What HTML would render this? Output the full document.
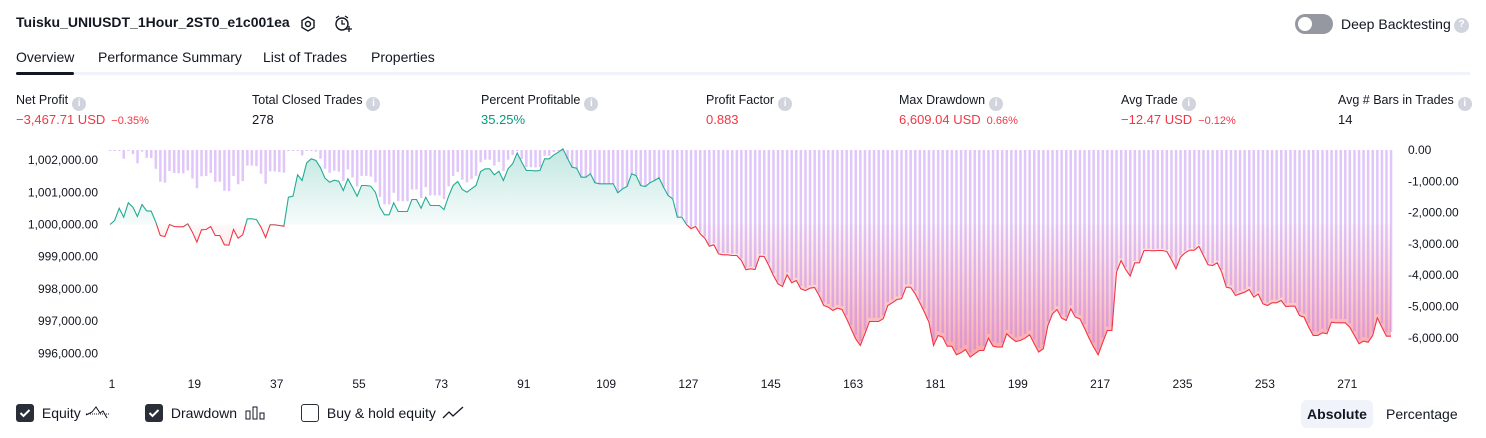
<!DOCTYPE html>
<html><head><meta charset="utf-8"><style>
*{margin:0;padding:0;box-sizing:border-box}
body{width:1486px;height:438px;background:#fff;font-family:"Liberation Sans",sans-serif;color:#131722;position:relative;overflow:hidden}
.abs{position:absolute;white-space:nowrap}
.title{left:16px;top:14px;font-size:14px;font-weight:bold}
.tab{top:49px;font-size:14px;color:#131722}
.lbl{top:93px;font-size:12.5px;color:#131722}
.val{top:112px;font-size:13px}
.info{display:inline-block;width:14px;height:14px;border-radius:50%;background:#d1d4dc;color:#fff;font-size:10px;text-align:center;line-height:14px;font-weight:bold;vertical-align:-2px;margin-left:4px}
.red{color:#f23645}.green{color:#089981}
.small{font-size:11px;margin-left:6px}
.cb{width:18px;height:18px;border-radius:3px;display:inline-block;vertical-align:middle}
.leg{top:404px;font-size:14px}
</style></head><body>
<div class="abs title">Tuisku_UNIUSDT_1Hour_2ST0_e1c001ea</div>
<svg class="abs" style="left:299px;top:15px" width="18" height="18"><polygon points="9,2 15,5.5 15,12.5 9,16 3,12.5 3,5.5" fill="none" stroke="#131722" stroke-width="1.4"/><circle cx="9" cy="9" r="2.5" fill="none" stroke="#131722" stroke-width="1.4"/></svg>
<svg class="abs" style="left:333px;top:14px" width="20" height="20"><circle cx="9" cy="10" r="6" fill="none" stroke="#131722" stroke-width="1.4"/><path d="M9 6v4h3M3 4l3-2M15 4l-3-2M13 15h6M16 12v6" stroke="#131722" stroke-width="1.3" fill="none"/></svg>
<div class="abs" style="left:1295px;top:14px;width:38px;height:20px;border-radius:10px;background:#9598a1"><div style="position:absolute;left:3px;top:3px;width:14px;height:14px;border-radius:50%;background:#fff"></div></div>
<div class="abs" style="left:1341px;top:16px;font-size:14px">Deep Backtesting</div>
<div class="abs info" style="left:1450px;top:18px;width:15px;height:15px">?</div>

<div class="abs tab" style="left:16px">Overview</div>
<div class="abs tab" style="left:98px">Performance Summary</div>
<div class="abs tab" style="left:263px">List of Trades</div>
<div class="abs tab" style="left:371px">Properties</div>
<div class="abs" style="left:16px;top:72px;width:1454px;height:3px;background:#f0f3fa"></div>
<div class="abs" style="left:16px;top:72px;width:58px;height:3px;border-radius:2px;background:#131722"></div>

<div class="abs lbl" style="left:16px">Net Profit<span class="info">i</span></div>
<div class="abs val red" style="left:16px">−3,467.71 USD<span class="small">−0.35%</span></div>
<div class="abs lbl" style="left:252px">Total Closed Trades<span class="info">i</span></div>
<div class="abs val" style="left:252px">278</div>
<div class="abs lbl" style="left:481px">Percent Profitable<span class="info">i</span></div>
<div class="abs val green" style="left:481px">35.25%</div>
<div class="abs lbl" style="left:706px">Profit Factor<span class="info">i</span></div>
<div class="abs val red" style="left:706px">0.883</div>
<div class="abs lbl" style="left:899px">Max Drawdown<span class="info">i</span></div>
<div class="abs val red" style="left:899px">6,609.04 USD<span class="small">0.66%</span></div>
<div class="abs lbl" style="left:1121px">Avg Trade<span class="info">i</span></div>
<div class="abs val red" style="left:1121px">−12.47 USD<span class="small">−0.12%</span></div>
<div class="abs lbl" style="left:1338px">Avg # Bars in Trades<span class="info">i</span></div>
<div class="abs val" style="left:1338px">14</div>

<svg id="chart" class="abs" style="left:0;top:138px" width="1486" height="258"></svg>

<div class="abs leg" style="left:16px"><span class="cb" style="background:#2a2e39;position:relative"><svg width="18" height="18"><path d="M4.5 9l3 3 6-6" stroke="#fff" stroke-width="2" fill="none"/></svg></span> <span style="margin-left:4px;vertical-align:middle">Equity</span> <svg width="26" height="14" style="vertical-align:middle"><path d="M1 9l6-3 4-5 4 6 3-2 4 7" stroke="#131722" fill="none" stroke-width="1"/><line x1="1" y1="8" x2="25" y2="8" stroke="#131722" stroke-dasharray="1,1"/></svg></div>
<div class="abs leg" style="left:145px"><span class="cb" style="background:#2a2e39"><svg width="18" height="18"><path d="M4.5 9l3 3 6-6" stroke="#fff" stroke-width="2" fill="none"/></svg></span> <span style="margin-left:4px;vertical-align:middle">Drawdown</span> <svg width="22" height="14" style="vertical-align:middle;margin-left:4px"><rect x="1" y="5" width="4" height="8" fill="none" stroke="#131722"/><rect x="8" y="1" width="4" height="12" fill="none" stroke="#131722"/><rect x="15" y="7" width="4" height="6" fill="none" stroke="#131722"/></svg></div>
<div class="abs leg" style="left:301px"><span class="cb" style="border:1.5px solid #2a2e39"></span> <span style="margin-left:4px;vertical-align:middle">Buy &amp; hold equity</span> <svg width="24" height="14" style="vertical-align:middle;margin-left:2px"><path d="M1 12l6-6 4 4 10-9" stroke="#131722" fill="none" stroke-width="1.3"/></svg></div>
<div class="abs" style="left:1301px;top:400px;width:72px;height:28px;border-radius:6px;background:#f0f3fa;font-size:14px;font-weight:bold;text-align:center;line-height:28px">Absolute</div>
<div class="abs" style="left:1386px;top:406px;font-size:14px">Percentage</div>

<script>
const netProfit = [0,124,507,228,673,538,248,621,424,414,72,-342,-373,0,-62,-72,-72,21,-238,-549,-166,-155,-62,-342,-342,-631,-642,-155,-424,-321,176,176,155,-83,-404,-10,-10,-31,-52,849,880,1542,1366,1915,2039,1987,1760,1439,1314,1377,1346,1056,1418,1159,880,1211,1211,1190,1004,538,300,300,673,404,404,404,776,776,507,849,590,590,590,466,880,1211,1335,1087,1004,1108,1211,1646,1729,1729,1542,1656,1366,1729,1884,2225,1935,1677,1677,1666,1677,2039,2039,2163,2246,2350,2060,1780,1749,1470,1470,1573,1294,1263,1263,1263,1263,983,1107,1180,1573,1521,1211,1180,1294,1366,1449,1159,900,797,
228,228,0,-130,-62,-290,-424,-673,-631,-911,-942,-942,-963,-963,-1118,-1408,-1377,-1397,-983,-994,-1273,-1584,-1842,-1925,-1563,-1811,-1739,-1998,-2049,-1977,-1956,-2205,-2515,-2567,-2670,-2598,-2639,-2929,-3240,-3550,-3757,-3395,-3012,-3012,-3012,-2929,-2515,-2432,-2329,-2308,-1946,-1946,-2153,-2432,-2722,-3033,-3757,-3447,-3498,-3778,-3778,-4047,-3985,-3881,-4119,-4016,-3912,-3912,-3530,-3778,-3809,-3809,-3395,-3530,-3633,-3602,-3530,-3426,-3705,-3964,-3861,-3136,-2774,-2639,-2908,-2981,-2619,-2877,-2929,-3219,-3530,-3809,-4047,-3654,-3291,-3291,-1480,-1118,-1397,-1604,-1190,-1190,-807,-807,-818,-807,-807,-838,-1087,-1377,-1014,-880,-797,-797,-673,-963,-1252,-1273,-1190,-1480,-1946,-1977,-2205,-2153,-2101,-2018,-2256,-2163,-2463,-2515,-2432,-2432,-2360,-2546,-2536,-2536,-2826,-2877,-3188,-3447,-3447,-3364,-3395,-3033,-3053,-3053,-3053,-3188,-3447,-3705,-3623,-3654,-3447,-2898,-3188,-3468,-3468];
const initialCapital = 1000000;
const leftTicks = [1002000,1001000,1000000,999000,998000,997000,996000];
const leftTickLabels = ["1,002,000.00","1,001,000.00","1,000,000.00","999,000.00","998,000.00","997,000.00","996,000.00"];
const rightTicks = [0,-1000,-2000,-3000,-4000,-5000,-6000];
const rightTickLabels = ["0.00","-1,000.00","-2,000.00","-3,000.00","-4,000.00","-5,000.00","-6,000.00"];
const xTicks = [1,19,37,55,73,91,109,127,145,163,181,199,217,235,253,271];

const OY = 138;
const svg = document.getElementById('chart');
const NS = 'http://www.w3.org/2000/svg';
const X = i => 110 + i * 4.575;
const YE = v => 224.5 - (v - initialCapital) * 0.0322 - OY;
const YD = d => 150 - d * 0.0313 - OY;
function mk(tag, attrs, parent) { const e = document.createElementNS(NS, tag); for (const k in attrs) e.setAttribute(k, attrs[k]); (parent || svg).appendChild(e); return e; }

const equity = netProfit.map(p => initialCapital + p);
let peak = initialCapital;
const drawdown = equity.map(v => { peak = Math.max(peak, v); return v - peak; });
const baseY = YE(initialCapital);

const defs = mk('defs', {});
const g1 = mk('linearGradient', {id: 'gg', gradientUnits: 'userSpaceOnUse', x1: 0, y1: YE(1002350), x2: 0, y2: baseY}, defs);
mk('stop', {offset: 0, 'stop-color': '#22ab94', 'stop-opacity': 0.28}, g1);
mk('stop', {offset: 1, 'stop-color': '#22ab94', 'stop-opacity': 0.04}, g1);
const g2 = mk('linearGradient', {id: 'rg', gradientUnits: 'userSpaceOnUse', x1: 0, y1: baseY, x2: 0, y2: YE(995800)}, defs);
mk('stop', {offset: 0, 'stop-color': '#f23645', 'stop-opacity': 0.03}, g2);
mk('stop', {offset: 1, 'stop-color': '#f23645', 'stop-opacity': 0.45}, g2);
const c1 = mk('clipPath', {id: 'above'}, defs); mk('rect', {x: 0, y: 0, width: 1486, height: baseY}, c1);
const c2 = mk('clipPath', {id: 'below'}, defs); mk('rect', {x: 0, y: baseY, width: 1486, height: 300}, c2);

leftTicks.forEach((t, i) => {
  const e = mk('text', {x: 98, y: YE(t) + 4, 'text-anchor': 'end', 'font-size': 12, fill: '#131722'});
  e.textContent = leftTickLabels[i];
  
  
});
rightTicks.forEach((t, i) => {
  const e = mk('text', {x: 1408, y: YD(t) + 4, 'font-size': 12, fill: '#131722'});
  e.textContent = rightTickLabels[i];
  
  
});
xTicks.forEach(t => {
  const e = mk('text', {x: X(t - 1) + 2, y: 250, 'text-anchor': 'middle', 'font-size': 12, fill: '#131722'});
  e.textContent = t;
  
  
});

const pts = equity.map((v, i) => X(i).toFixed(1) + ',' + YE(v).toFixed(1)).join(' ');
const poly = pts + ' ' + X(equity.length - 1).toFixed(1) + ',' + baseY + ' ' + X(0) + ',' + baseY;
const fa = mk('polygon', {points: poly, fill: 'url(#gg)', 'clip-path': 'url(#above)'});


const fb = mk('polygon', {points: poly, fill: 'url(#rg)', 'clip-path': 'url(#below)'});



drawdown.forEach((d, i) => {
  const h = Math.max(1, YD(d) - YD(0));
  const r = mk('rect', {x: (X(i) - 1.2).toFixed(1), y: YD(0), width: 2.5, height: h.toFixed(1), fill: 'rgb(180,120,240)', 'fill-opacity': 0.42});
  
  
});

const la = mk('polyline', {points: pts, fill: 'none', stroke: '#22ab94', 'stroke-width': 1.1, 'clip-path': 'url(#above)'});


const lb = mk('polyline', {points: pts, fill: 'none', stroke: '#f23645', 'stroke-width': 1.1, 'clip-path': 'url(#below)'});


</script>
</body></html>
